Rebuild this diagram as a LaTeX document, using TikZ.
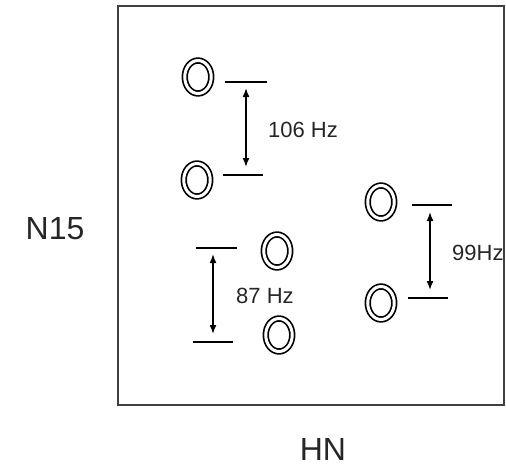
\documentclass[tikz,border=0pt]{standalone}
\usepackage{fontspec}
\setmainfont{Liberation Sans}
\usetikzlibrary{arrows.meta,shapes.geometric}
\begin{document}
\begin{tikzpicture}[x=1pt,y=-1pt,
  peak/.style={ellipse,draw,line width=1.7pt,double,double distance=3pt,minimum width=26.5pt,minimum height=33pt,inner sep=0pt},
  level/.style={line width=1.8pt},
  split/.style={line width=1.6pt,{Latex[length=9pt,width=7pt]}-{Latex[length=9pt,width=7pt]}},
  hz/.style={font=\fontsize{22}{24}\selectfont,text=black!85},
  axis/.style={font=\fontsize{32}{35}\selectfont,text=black!85}]
\useasboundingbox (0,0) rectangle (506,466);
\draw[line width=1.8pt,black!75] (118,6) rectangle (504,405);
% peaks
\node[peak] (p1) at (198,77) {};
\node[peak] (p2) at (197,180) {};
\node[peak] (p3) at (381,202) {};
\node[peak] (p4) at (381,303) {};
\node[peak] (p5) at (277,251) {};
\node[peak] (p6) at (279,335) {};
% level lines
\coordinate (l1a) at (225,82); \coordinate (l1b) at (267,82);
\coordinate (l2a) at (223,175); \coordinate (l2b) at (263,175);
\coordinate (l3a) at (412,205); \coordinate (l3b) at (452,205);
\coordinate (l4a) at (408,298); \coordinate (l4b) at (448,298);
\coordinate (l5a) at (196,248); \coordinate (l5b) at (237,248);
\coordinate (l6a) at (193,342); \coordinate (l6b) at (233,342);
\draw[level] (l1a) -- (l1b);
\draw[level] (l2a) -- (l2b);
\draw[level] (l3a) -- (l3b);
\draw[level] (l4a) -- (l4b);
\draw[level] (l5a) -- (l5b);
\draw[level] (l6a) -- (l6b);
% arrows
\coordinate (a1t) at (246,88); \coordinate (a1b) at (246,167);
\coordinate (a3t) at (430,212); \coordinate (a3b) at (430,290);
\coordinate (a5t) at (213,254); \coordinate (a5b) at (213,334);
\draw[split] (a1t) -- (a1b);
\draw[split] (a3t) -- (a3b);
\draw[split] (a5t) -- (a5b);
% labels
\node[hz,anchor=west,inner sep=0pt] (t1) at (268,130) {106 Hz};
\node[hz,anchor=west,inner sep=0pt] (t5) at (236,296) {87 Hz};
\node[hz,anchor=west,inner sep=0pt] (t3) at (452,253) {99Hz};
\node[axis] (n15) at (55,229) {N15};
\node[axis] (hn) at (323,449) {HN};
\end{tikzpicture}
\end{document}
